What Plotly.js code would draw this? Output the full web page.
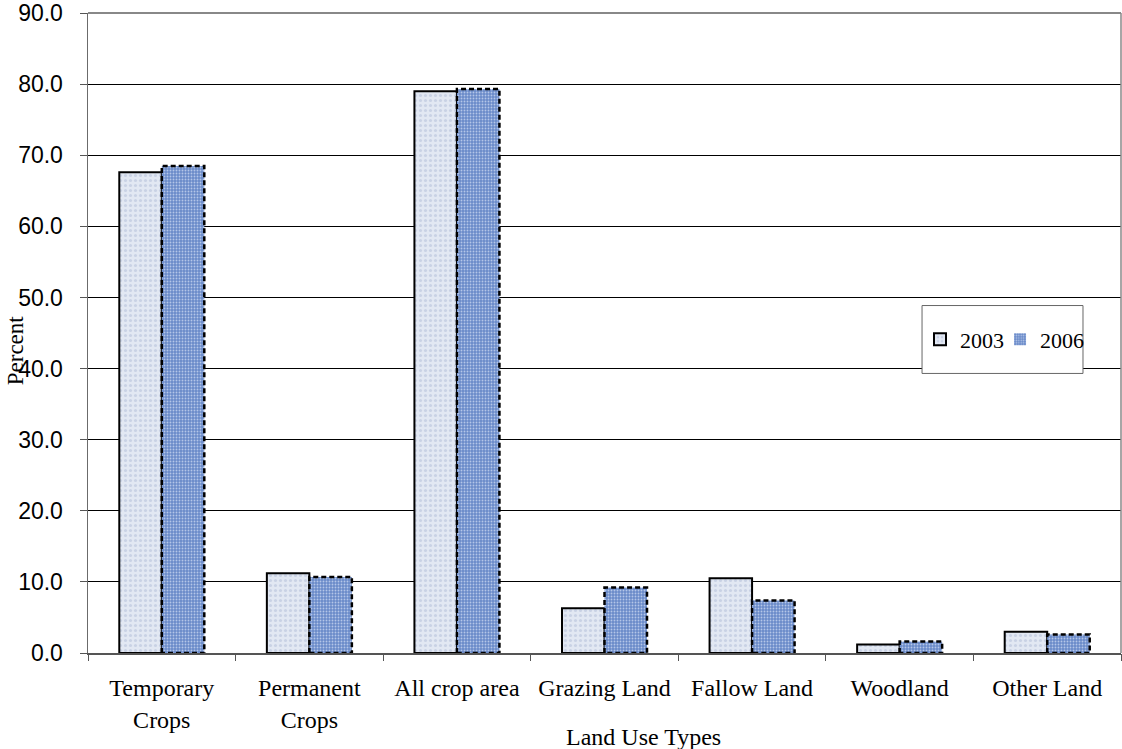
<!DOCTYPE html>
<html>
<head>
<meta charset="utf-8">
<script src="https://cdn.plot.ly/plotly-3.0.1.min.js"></script>
<style>html,body{margin:0;padding:0;background:#fff;}#chart{width:1122px;height:749px;}</style>
</head>
<body>
<div id="chart"></div>
<script>
// ---- data ----
var categories = ['Temporary<br>Crops', 'Permanent<br>Crops', 'All crop area', 'Grazing Land', 'Fallow Land', 'Woodland', 'Other Land'];
var series2003 = [67.6, 11.2, 79.0, 6.3, 10.5, 1.2, 3.0];
var series2006 = [68.5, 10.7, 79.3, 9.2, 7.4, 1.6, 2.6];
var seriesNames = ['2003', '2006'];
var yTickVals = [0, 10, 20, 30, 40, 50, 60, 70, 80, 90];

// ---- build ----
var idx = categories.map(function (_, i) { return i; });
var barW = 0.288;

var trace2003 = {
  type: 'bar', name: seriesNames[0], x: idx, y: series2003,
  width: barW, offset: -barW, legend: 'legend',
  marker: {
    color: '#dde4f1',
    line: { color: '#000', width: 2 },
    pattern: { shape: '.', bgcolor: '#e2e8f3', fgcolor: '#c9d2e5', size: 5, solidity: 0.3 }
  },
  hoverinfo: 'x+y'
};
var trace2006 = {
  type: 'bar', name: seriesNames[1], x: idx, y: series2006,
  width: barW, offset: 0, legend: 'legend2',
  marker: {
    color: '#6f8fcb',
    line: { color: '#000', width: 0 },
    pattern: { shape: '.', bgcolor: '#6a8bc9', fgcolor: '#b4c6e8', size: 3, solidity: 0.3 }
  },
  hoverinfo: 'x+y'
};
// dashed outline of the 2006 bars, derived from the data values
var ox = [], oy = [];
series2006.forEach(function (v, i) {
  var x0 = i, x1 = i + barW;
  ox.push(x0, x0, x1, x1, x0, null);
  oy.push(0, v, v, 0, 0, null);
});
var outline2006 = {
  type: 'scatter', mode: 'lines', x: ox, y: oy, showlegend: false, hoverinfo: 'skip',
  line: { color: '#000', width: 2.5, dash: '5px,3px' }
};

var boundaries = [];
for (var b = 0; b <= categories.length; b++) boundaries.push(b - 0.5);

var legendFont = { family: 'Liberation Serif, Times New Roman, serif', size: 22, color: '#000' };

var layout = {
  width: 1122, height: 749,
  margin: { l: 88, r: 1, t: 13, b: 96, autoexpand: false },
  paper_bgcolor: '#fff', plot_bgcolor: '#fff',
  showlegend: true,
  barmode: 'overlay',
  font: { family: 'Liberation Serif, Times New Roman, serif', color: '#000' },
  xaxis: {
    range: [-0.5, categories.length - 0.5],
    tickmode: 'array', tickvals: idx, ticktext: categories,
    ticks: '', showgrid: false, zeroline: false,
    showline: true, linecolor: '#555', linewidth: 1.5, mirror: false,
    tickfont: { family: 'Liberation Serif, Times New Roman, serif', size: 24, color: '#000' },
    ticklabelstandoff: 13
  },
  xaxis2: {
    overlaying: 'x', anchor: 'y', side: 'bottom',
    range: [-0.5, categories.length - 0.5],
    tickmode: 'array', tickvals: boundaries, ticktext: boundaries.map(function () { return ''; }),
    ticks: 'outside', ticklen: 7, tickcolor: '#555', tickwidth: 1,
    showgrid: false, zeroline: false, showline: false
  },
  yaxis: {
    range: [0, 90], tickmode: 'array', tickvals: yTickVals,
    ticktext: yTickVals.map(function (v) { return v.toFixed(1); }),
    ticks: 'outside', ticklen: 7, tickcolor: '#555',
    showgrid: true, gridcolor: '#000', gridwidth: 1,
    zeroline: false, showline: true, linecolor: '#6b6b6b', linewidth: 1.5,
    tickfont: { family: 'Liberation Sans, Arial, sans-serif', size: 23, color: '#000' },
    ticklabelstandoff: 12, ticklabeloverflow: 'allow'
  },
  legend: {
    orientation: 'h', x: 0.8054, y: 0.49, xanchor: 'left', yanchor: 'middle',
    bgcolor: 'rgba(0,0,0,0)', borderwidth: 0, font: legendFont, itemwidth: 30
  },
  legend2: {
    orientation: 'h', x: 0.8829, y: 0.49, xanchor: 'left', yanchor: 'middle',
    bgcolor: 'rgba(0,0,0,0)', borderwidth: 0, font: legendFont, itemwidth: 30
  },
  shapes: [
    { type: 'line', xref: 'paper', yref: 'paper', x0: 0, x1: 1, y0: 1, y1: 1, line: { color: '#888', width: 2 } },
    { type: 'line', xref: 'paper', yref: 'paper', x0: 1, x1: 1, y0: 0, y1: 1, line: { color: '#888', width: 1.5 } },
    { type: 'rect', xref: 'paper', yref: 'paper', x0: 0.8074, x1: 0.9632, y0: 0.4368, y1: 0.5429,
      fillcolor: '#fff', line: { color: '#666', width: 1 }, layer: 'above' }
  ],
  annotations: [
    { text: 'Percent', xref: 'paper', yref: 'paper', x: -0.0707, y: 0.473, textangle: -90,
      showarrow: false, xanchor: 'center', yanchor: 'middle',
      font: { family: 'Liberation Serif, Times New Roman, serif', size: 23, color: '#000' } },
    { text: 'Land Use Types', xref: 'paper', yref: 'paper', x: 0.538, y: -0.131,
      showarrow: false, xanchor: 'center', yanchor: 'middle',
      font: { family: 'Liberation Serif, Times New Roman, serif', size: 24, color: '#000' } }
  ]
};

var dummyAxis2 = { type: 'scatter', x: [null], y: [null], xaxis: 'x2', showlegend: false, hoverinfo: 'skip' };

Plotly.newPlot('chart', [trace2003, trace2006, outline2006, dummyAxis2], layout, { displayModeBar: false, staticPlot: true });
</script>
</body>
</html>
